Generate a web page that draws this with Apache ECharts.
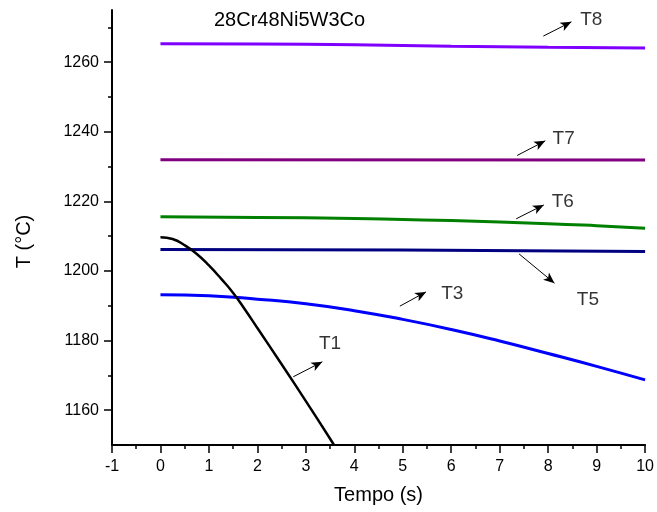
<!DOCTYPE html>
<html lang="pt">
<head>
    <meta charset="UTF-8">
    <title>28Cr48Ni5W3Co</title>
    <style>
        html, body { margin: 0; padding: 0; background: #fff; }
    </style>
</head>
<body>
<div id="main" style="width:657px;height:512px;"></div>

<script src="https://cdn.jsdelivr.net/npm/echarts@6/dist/echarts.min.js"></script>
<script>
    // valores
    var xTicks = [-1, 0, 1, 2, 3, 4, 5, 6, 7, 8, 9, 10];
    var yTicks = [1160, 1180, 1200, 1220, 1240, 1260];
    var yMinor = [1170, 1190, 1210, 1230, 1250, 1270];

    var t1X = [0, 0.25, 0.5, 0.75, 1, 1.25, 1.5, 1.75, 2, 2.5, 3, 3.5, 3.58];
    var t1Y = [1209.7, 1209.2, 1207.4, 1204.9, 1201.6, 1197.8, 1193.7, 1188.8, 1183.6, 1173.2, 1162.6, 1151.8, 1150.0];

    var t3X = [0, 1, 2, 3, 4, 5, 6, 7, 8, 9, 10];
    var t3Y = [1193.2, 1192.9, 1191.9, 1190.6, 1188.6, 1186.1, 1183.2, 1179.9, 1176.3, 1172.6, 1168.7];

    var t5X = [0, 5, 10];
    var t5Y = [1206.2, 1206.0, 1205.6];

    var t6X = [0, 2, 4, 5, 6, 8, 9, 10];
    var t6Y = [1215.6, 1215.4, 1215.1, 1214.8, 1214.5, 1213.6, 1213.0, 1212.3];

    var t7X = [0, 10];
    var t7Y = [1232.0, 1231.9];

    var t8X = [0, 2, 4, 6, 8, 10];
    var t8Y = [1265.3, 1265.2, 1265.0, 1264.6, 1264.3, 1264.1];

    // setas e rótulos (coordenadas de dados)
    var noteNames = ['T8', 'T7', 'T6', 'T5', 'T3', 'T1'];
    var noteArrows = [
        [7.90, 1267.5, 8.48, 1271.6],
        [7.36, 1233.2, 7.94, 1237.4],
        [7.34, 1215.0, 7.91, 1219.0],
        [7.40, 1204.9, 8.13, 1196.5],
        [4.94, 1189.9, 5.48, 1194.0],
        [2.74, 1169.6, 3.34, 1173.9]
    ];
    var noteLabelX = [8.89, 8.32, 8.30, 8.82, 6.02, 3.50];
    var noteLabelY = [1272.1, 1237.9, 1219.8, 1191.7, 1193.6, 1179.1];

    function pairs(xs, ys) {
        return xs.map(function (x, i) { return [x, ys[i]]; });
    }

    function curve(name, xs, ys, color, width, smooth) {
        return {
            name: name,
            type: 'line',
            data: pairs(xs, ys),
            smooth: smooth,
            showSymbol: false,
            silent: true,
            lineStyle: {color: color, width: width},
            clip: true
        };
    }

    // eixo y extra só para marcas (sem linha nem rótulos)
    function tickAxis(values, len) {
        return {
            type: 'value',
            min: 1150,
            max: 1275,
            position: 'left',
            offset: 0,
            axisLine: {show: false, onZero: false},
            axisTick: {show: true, inside: false, length: len, customValues: values,
                lineStyle: {color: '#000', width: 1.5}},
            axisLabel: {show: false},
            splitLine: {show: false}
        };
    }

    var font = 'Liberation Sans';
    var myChart = echarts.init(document.getElementById('main'));

    myChart.setOption({
        animation: false,
        title: {
            text: '28Cr48Ni5W3Co',
            left: 209,
            top: 5,
            textStyle: {fontFamily: font, fontSize: 20, fontWeight: 'normal', color: '#000'}
        },
        grid: {left: 112, right: 10, top: 10, bottom: 67},
        xAxis: {
            type: 'value',
            min: -1,
            max: 10,
            interval: 1,
            name: 'Tempo (s)',
            nameLocation: 'middle',
            nameGap: 40,
            nameTextStyle: {fontFamily: font, fontSize: 20, color: '#000'},
            axisLine: {onZero: false, lineStyle: {color: '#000', width: 2}},
            axisTick: {inside: false, length: 8, lineStyle: {color: '#000', width: 1.5}},
            minorTick: {show: true, splitNumber: 2, length: 4, lineStyle: {color: '#000', width: 1.5}},
            axisLabel: {
                fontFamily: font, fontSize: 16, color: '#000', margin: 14,
                formatter: function (v) { return xTicks.indexOf(v) >= 0 ? String(v) : ''; }
            },
            splitLine: {show: false}
        },
        yAxis: [{
            type: 'value',
            min: 1150,
            max: 1275,
            position: 'left',
            name: 'T (°C)',
            nameLocation: 'middle',
            nameGap: 78,
            nameRotate: 90,
            nameTextStyle: {fontFamily: font, fontSize: 20, color: '#000', padding: [0, 28, 0, 0]},
            axisLine: {show: true, onZero: false, lineStyle: {color: '#000', width: 2}},
            axisTick: {show: false},
            axisLabel: {
                fontFamily: font, fontSize: 16, color: '#000', margin: 13, customValues: yTicks,
                formatter: function (v) { return String(v); }
            },
            splitLine: {show: false}
        }, tickAxis(yTicks, 8), tickAxis(yMinor, 4)],
        series: [
            curve('T8', t8X, t8Y, '#8000ff', 3, true),
            curve('T7', t7X, t7Y, '#800080', 3, false),
            curve('T6', t6X, t6Y, '#008000', 3, true),
            curve('T5', t5X, t5Y, '#000080', 3, true),
            curve('T3', t3X, t3Y, '#0000ff', 3, true),
            curve('T1', t1X, t1Y, '#000000', 2.5, true),
            {
                name: 'notas',
                type: 'scatter',
                silent: true,
                symbolSize: 0,
                data: noteNames.map(function (n, i) {
                    return {name: n, value: [noteLabelX[i], noteLabelY[i]]};
                }),
                label: {
                    show: true,
                    position: 'inside',
                    formatter: '{b}',
                    fontFamily: font,
                    fontSize: 19,
                    color: '#000'
                },
                markLine: {
                    silent: true,
                    symbol: ['none', 'arrow'],
                    symbolSize: [7, 11],
                    label: {show: false},
                    lineStyle: {color: '#000', width: 1, type: 'solid'},
                    data: noteArrows.map(function (a) {
                        return [{coord: [a[0], a[1]]}, {coord: [a[2], a[3]]}];
                    })
                }
            }
        ]
    });
</script>
</body>
</html>
